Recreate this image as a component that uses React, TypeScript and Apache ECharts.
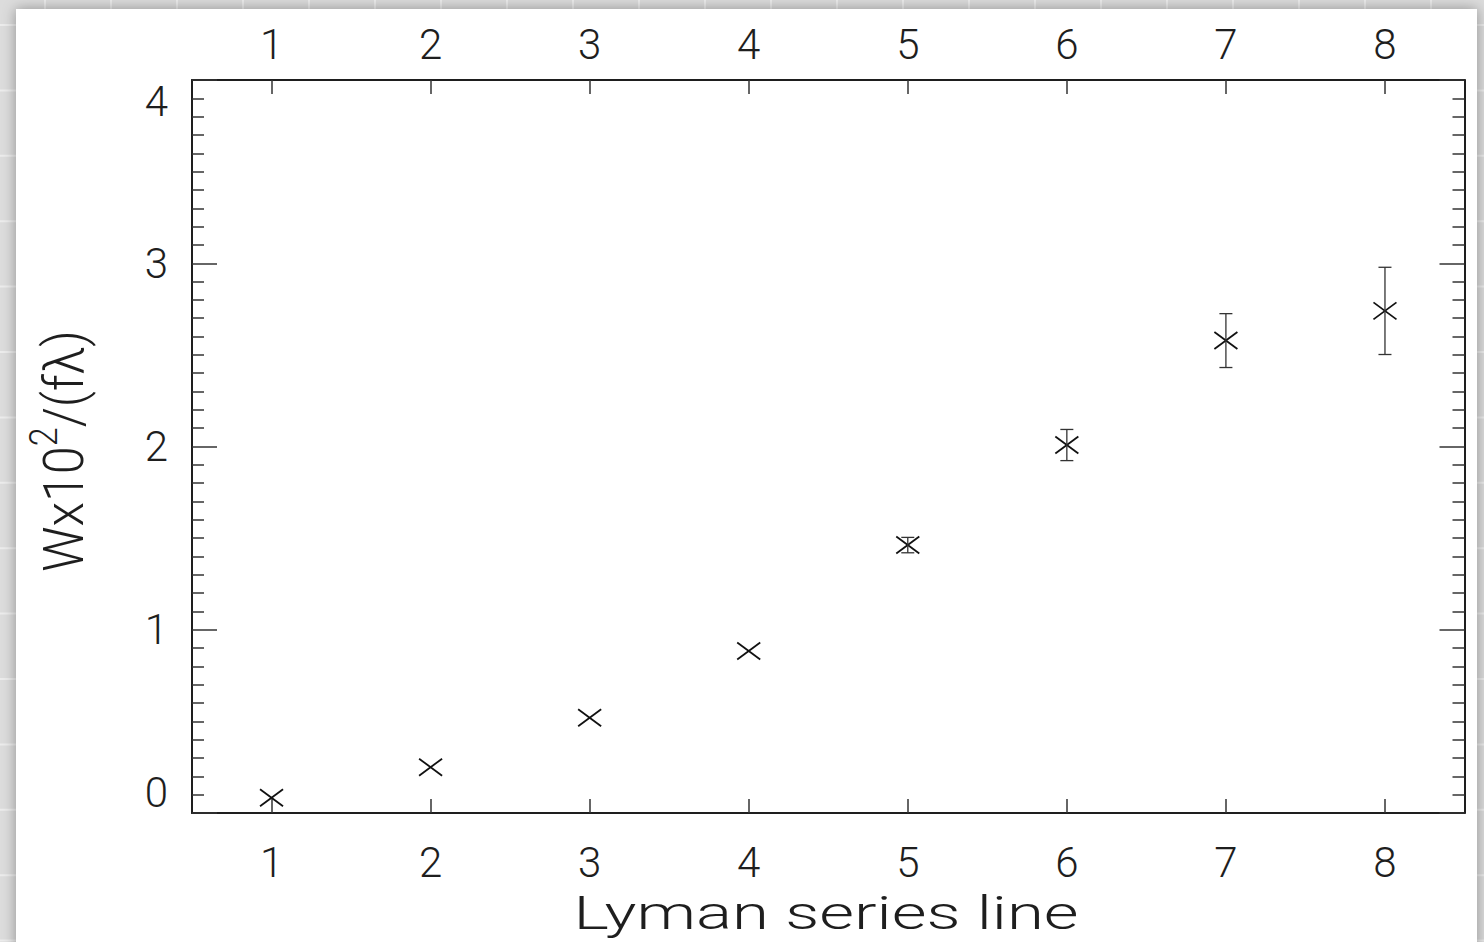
import React, { useEffect, useRef } from 'react';
import * as echarts from 'echarts';

// Lyman series line number
const lineNumbers = [1, 2, 3, 4, 5, 6, 7, 8];
// W x 10^2 / (f lambda)
const values = [0.083, 0.25, 0.52, 0.884, 1.462, 2.008, 2.578, 2.74];
// symmetric error (0 = no visible bar)
const errors = [0, 0, 0, 0, 0.042, 0.085, 0.147, 0.238];
const xTickValues = [1, 2, 3, 4, 5, 6, 7, 8];
const xTitle = 'Lyman series line';

const W = 1484;
const H = 942;
const FONT = 'Roboto';
const INK = '#1e1e1e';

function buildBackground(): any[] {
  const els: any[] = [];
  els.push({ type: 'rect', z: -20, silent: true, shape: { x: 0, y: 0, width: W, height: H }, style: { fill: '#dcdcdc' } });
  for (let x = 45; x < W; x += 66) {
    els.push({ type: 'line', z: -19, silent: true, shape: { x1: x, y1: 0, x2: x, y2: H }, style: { stroke: '#ececec', lineWidth: 2 } });
  }
  for (let y = 25; y < H; y += 65.4) {
    els.push({ type: 'line', z: -19, silent: true, shape: { x1: 0, y1: y, x2: W, y2: y }, style: { stroke: '#ececec', lineWidth: 2 } });
  }
  els.push({
    type: 'rect', z: -18, silent: true,
    shape: { x: 16, y: 9, width: 1461, height: 1000 },
    style: { fill: '#ffffff', shadowBlur: 14, shadowColor: 'rgba(0,0,0,0.35)' },
  });
  return els;
}

export default function App() {
  const ref = useRef<HTMLDivElement>(null);

  useEffect(() => {
    document.body.style.margin = '0';
    if (!ref.current) return;
    const chart = echarts.init(ref.current, undefined, { renderer: 'svg' });

    const data = lineNumbers.map((n, i) => [n, values[i], errors[i]]);

    const xAxisBase = (pos: 'top' | 'bottom', margin: number) => ({
      type: 'value',
      position: pos,
      min: 0.5,
      max: 8.5,
      gridIndex: 0,
      axisLine: { show: true, onZero: false, lineStyle: { color: INK, width: 2 } },
      axisTick: { show: true, inside: true, length: 14, customValues: xTickValues, lineStyle: { color: '#333', width: 1.5 } },
      axisLabel: { show: true, customValues: xTickValues, margin, fontSize: 42, fontFamily: FONT, fontWeight: 300, color: INK },
      splitLine: { show: false },
      minorTick: { show: false },
    });

    const yAxisBase = (pos: 'left' | 'right', showLabel: boolean) => ({
      type: 'value',
      position: pos,
      min: 0,
      max: 4,
      interval: 1,
      axisLine: { show: true, onZero: false, lineStyle: { color: INK, width: 2 } },
      axisTick: { show: true, inside: true, length: 25, lineStyle: { color: '#333', width: 1.5 } },
      minorTick: { show: true, splitNumber: 10, length: 12, lineStyle: { color: '#333', width: 1.5 } },
      axisLabel: {
        show: showLabel, margin: 24, fontSize: 42, fontFamily: FONT, fontWeight: 300, color: INK,
        verticalAlignMinLabel: 'bottom', verticalAlignMaxLabel: 'top',
      },
      splitLine: { show: false },
      minorSplitLine: { show: false },
    });

    const option: any = {
      animation: false,
      backgroundColor: 'transparent',
      grid: { left: 192, right: 19.5, top: 80, bottom: 129, containLabel: false },
      xAxis: [xAxisBase('bottom', 28), xAxisBase('top', 15)],
      yAxis: [yAxisBase('left', true), yAxisBase('right', false)],
      graphic: [
        ...buildBackground(),
        {
          type: 'text', z: 10, silent: true,
          x: 826, y: 913, scaleX: 1.46,
          style: { text: xTitle, fontSize: 46, fontFamily: FONT, fontWeight: 300, fill: INK, align: 'center', verticalAlign: 'middle' },
        },
        {
          type: 'text', z: 10, silent: true,
          x: 64, y: 451, rotation: Math.PI / 2, scaleX: 0.9,
          style: {
            text: '{a|Wx10}{s|2}{a|/(fλ)}',
            align: 'center', verticalAlign: 'middle', fill: INK,
            rich: {
              a: { fontSize: 56, fontFamily: FONT, fontWeight: 300, fill: INK },
              s: { fontSize: 38, fontFamily: FONT, fontWeight: 300, fill: INK, padding: [0, 0, 40, 0] },
            },
          },
        },
      ],
      series: [
        {
          type: 'custom',
          xAxisIndex: 0,
          yAxisIndex: 0,
          encode: { x: 0, y: 1 },
          data,
          clip: false,
          renderItem: (params: any, api: any) => {
            const x = api.value(0);
            const y = api.value(1);
            const e = api.value(2);
            const c = api.coord([x, y]);
            const hw = 11.5;
            const hh = 8.5;
            const children: any[] = [
              { type: 'line', shape: { x1: c[0] - hw, y1: c[1] - hh, x2: c[0] + hw, y2: c[1] + hh }, style: { stroke: '#111', lineWidth: 1.8 } },
              { type: 'line', shape: { x1: c[0] - hw, y1: c[1] + hh, x2: c[0] + hw, y2: c[1] - hh }, style: { stroke: '#111', lineWidth: 1.8 } },
            ];
            if (e > 0) {
              const t = api.coord([x, y + e]);
              const b = api.coord([x, y - e]);
              const cw = 6.5;
              children.push(
                { type: 'line', shape: { x1: t[0], y1: t[1], x2: b[0], y2: b[1] }, style: { stroke: '#333', lineWidth: 1.3 } },
                { type: 'line', shape: { x1: t[0] - cw, y1: t[1], x2: t[0] + cw, y2: t[1] }, style: { stroke: '#333', lineWidth: 1.3 } },
                { type: 'line', shape: { x1: b[0] - cw, y1: b[1], x2: b[0] + cw, y2: b[1] }, style: { stroke: '#333', lineWidth: 1.3 } },
              );
            }
            return { type: 'group', children };
          },
        },
      ],
    };

    chart.setOption(option);
    return () => chart.dispose();
  }, []);

  return <div ref={ref} style={{ width: W, height: H }} />;
}
